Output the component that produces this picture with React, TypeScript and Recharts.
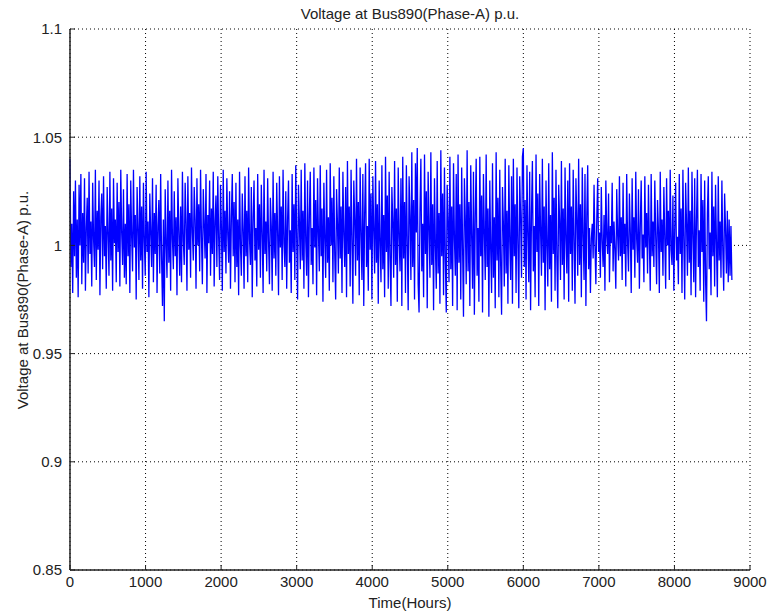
import React from 'react';
import { LineChart, Line, XAxis, YAxis, CartesianGrid, Customized } from 'recharts';

const STEP_HOURS = 12;

const xTicks = [0, 1000, 2000, 3000, 4000, 5000, 6000, 7000, 8000, 9000];
const yTicks = [0.85, 0.9, 0.95, 1, 1.05, 1.1];

// voltage (p.u.), read every ~12 h, month by month
const m1 = [1.040, 0.990, 1.010, 0.978, 1.025, 0.995, 1.030, 0.985, 1.012, 0.976, 1.028, 1.000, 1.033, 0.982, 1.015, 0.992, 1.031, 0.979, 1.008, 1.022, 0.987, 1.034, 0.996, 1.011, 0.981, 1.029, 1.003, 0.990, 1.035, 0.984, 1.016, 0.998, 1.030, 0.977, 1.013, 1.024, 0.989, 1.032, 0.995, 1.009, 0.980, 1.027, 1.005, 0.986, 1.034, 0.993, 1.017, 0.979, 1.031, 1.001, 1.012, 0.983, 1.029, 0.997, 1.020, 0.981, 1.035, 1.006, 0.991, 1.026, 0.985];
const m2 = [1.010, 0.982, 1.033, 0.995, 1.019, 0.978, 1.030, 1.004, 0.988, 1.035, 0.999, 1.014, 0.975, 1.027, 1.008, 0.984, 1.032, 0.993, 1.018, 0.980, 1.029, 1.002, 0.986, 1.034, 0.997, 1.011, 0.976, 1.024, 1.006, 0.990, 1.031, 0.983, 1.015, 0.996, 1.028, 0.978, 1.009, 1.021, 0.987, 1.033, 0.994, 0.972, 1.012, 0.965, 1.026, 1.001, 0.985, 1.030, 0.992, 1.016, 0.979, 1.035, 1.003, 0.989, 1.025, 0.995, 1.013, 0.977, 1.031, 1.007, 0.986];
const m3 = [1.018, 0.983, 1.034, 1.002, 0.991, 1.029, 1.010, 0.979, 1.032, 0.998, 1.015, 0.985, 1.036, 1.006, 0.993, 1.027, 1.012, 0.980, 1.031, 1.000, 1.019, 0.988, 1.035, 1.004, 0.982, 1.026, 1.009, 0.994, 1.033, 0.978, 1.014, 1.001, 1.030, 0.986, 1.017, 0.996, 1.034, 0.981, 1.011, 1.023, 0.990, 1.032, 1.003, 0.984, 1.028, 1.008, 0.979, 1.035, 0.997, 1.016, 0.987, 1.031, 1.005, 0.992, 1.025, 0.980, 1.013, 1.033, 0.995, 1.020, 0.983];
const m4 = [1.029, 0.990, 1.012, 0.977, 1.034, 1.000, 0.986, 1.024, 1.007, 0.980, 1.032, 0.995, 1.016, 0.983, 1.036, 1.003, 0.991, 1.027, 0.976, 1.013, 1.030, 0.993, 1.008, 0.981, 1.033, 0.998, 1.019, 0.985, 1.028, 1.005, 0.978, 1.035, 0.996, 1.011, 0.988, 1.031, 1.002, 0.982, 1.022, 1.009, 0.979, 1.034, 0.994, 1.015, 0.986, 1.029, 1.006, 0.977, 1.032, 0.999, 1.018, 0.984, 1.035, 1.001, 0.990, 1.025, 0.980, 1.012, 1.030, 0.992, 1.007];
const m5 = [0.978, 1.033, 0.997, 1.019, 0.984, 1.037, 1.004, 0.975, 1.028, 1.011, 0.989, 1.035, 0.993, 1.016, 0.980, 1.038, 1.002, 0.986, 1.030, 0.976, 1.014, 1.034, 0.991, 1.008, 0.982, 1.036, 0.999, 1.021, 0.977, 1.031, 1.006, 0.988, 1.037, 0.995, 1.017, 0.974, 1.029, 1.003, 0.985, 1.035, 0.992, 1.013, 0.979, 1.038, 1.000, 1.022, 0.983, 1.032, 0.996, 0.975, 1.026, 1.010, 0.987, 1.036, 0.994, 1.018, 0.978, 1.034, 1.005, 0.990, 1.027];
const m6 = [0.976, 1.039, 0.996, 1.018, 0.981, 1.035, 1.002, 0.973, 1.030, 1.012, 0.986, 1.040, 0.993, 1.020, 0.977, 1.036, 1.005, 0.984, 1.033, 0.972, 1.015, 1.038, 0.990, 1.009, 0.979, 1.040, 0.998, 1.024, 0.975, 1.032, 1.007, 0.987, 1.039, 0.992, 1.019, 0.973, 1.030, 1.001, 0.983, 1.037, 0.989, 1.014, 0.976, 1.041, 0.997, 1.023, 0.980, 1.034, 0.994, 0.972, 1.027, 1.011, 0.985, 1.039, 0.991, 1.017, 0.974, 1.036, 1.004, 0.988, 1.031];
const m7 = [0.972, 1.041, 0.994, 1.020, 0.978, 1.037, 1.001, 0.970, 1.032, 1.013, 0.984, 1.043, 0.990, 1.021, 0.975, 1.038, 1.006, 1.045, 0.982, 0.969, 1.016, 1.040, 0.988, 1.010, 0.976, 1.042, 0.996, 1.025, 0.971, 1.034, 1.008, 0.985, 1.043, 0.991, 1.019, 0.970, 1.031, 1.000, 0.980, 1.039, 0.987, 1.015, 0.973, 1.044, 0.995, 1.024, 0.977, 1.036, 0.993, 0.969, 1.028, 1.012, 0.983, 1.041, 0.989, 1.018, 0.972, 1.038, 1.003, 0.986, 1.033];
const m8 = [0.970, 1.042, 0.992, 1.019, 0.975, 1.036, 0.999, 0.967, 1.031, 1.012, 0.982, 1.044, 0.988, 1.020, 0.972, 1.037, 1.004, 0.980, 1.034, 0.968, 1.014, 1.040, 0.986, 1.008, 0.974, 1.041, 0.995, 1.023, 0.969, 1.033, 1.006, 0.984, 1.042, 0.990, 1.017, 0.967, 1.030, 0.998, 0.978, 1.038, 0.985, 1.013, 0.971, 1.043, 0.993, 1.022, 0.976, 1.035, 0.991, 0.968, 1.027, 1.010, 0.981, 1.040, 0.987, 1.016, 0.973, 1.037, 1.002, 0.984, 1.032];
const m9 = [0.973, 1.040, 0.995, 1.019, 0.978, 1.036, 1.001, 0.971, 1.032, 1.013, 0.985, 1.041, 1.045, 0.990, 1.021, 0.975, 1.037, 1.005, 0.983, 1.034, 0.970, 1.015, 1.039, 0.988, 1.009, 0.976, 1.042, 0.997, 1.024, 0.972, 1.033, 1.007, 0.986, 1.040, 0.992, 1.018, 0.970, 1.030, 1.000, 0.981, 1.038, 0.989, 1.014, 0.974, 1.043, 0.996, 1.022, 0.979, 1.035, 0.994, 0.971, 1.028, 1.011, 0.984, 1.039, 0.991, 1.017, 0.975, 1.036, 1.003, 0.987];
const m10 = [1.030, 0.974, 1.038, 0.996, 1.018, 0.979, 1.035, 1.002, 0.973, 1.031, 1.012, 0.986, 1.040, 0.991, 1.019, 0.976, 1.036, 1.004, 0.984, 1.033, 0.972, 1.014, 1.037, 0.989, 1.008, 0.978, 1.003, 1.010, 0.994, 1.028, 1.000, 0.982, 1.012, 1.031, 0.997, 1.006, 0.985, 1.027, 1.002, 0.990, 1.014, 0.979, 1.030, 1.004, 0.996, 1.024, 0.983, 1.009, 1.001, 1.029, 0.988, 1.011, 0.998, 0.980, 1.026, 1.005, 0.993, 1.032, 0.995, 1.013, 0.984];
const m11 = [1.029, 0.996, 1.010, 0.981, 1.033, 1.001, 0.988, 1.024, 1.006, 0.978, 1.031, 0.998, 1.013, 0.985, 1.034, 1.003, 0.992, 1.026, 0.980, 1.009, 1.030, 0.994, 1.005, 0.983, 1.032, 0.999, 1.015, 0.987, 1.028, 1.002, 0.979, 1.033, 0.995, 1.011, 0.990, 1.030, 1.004, 0.982, 1.021, 1.007, 0.978, 1.034, 0.997, 1.012, 0.986, 1.027, 1.003, 0.980, 1.031, 1.000, 1.016, 0.984, 1.035, 0.998, 0.991, 1.023, 0.979, 1.008, 1.029, 0.993, 1.004];
const m12 = [0.982, 1.033, 0.996, 1.017, 0.978, 1.035, 1.002, 0.975, 1.029, 1.010, 0.986, 1.036, 0.992, 1.016, 0.977, 1.034, 1.004, 0.983, 1.031, 0.976, 1.012, 1.035, 0.990, 1.007, 0.979, 1.033, 0.997, 1.021, 0.974, 1.030, 0.984, 0.965, 1.015, 1.032, 0.989, 1.006, 0.977, 1.034, 0.995, 1.018, 0.981, 1.028, 1.001, 0.976, 1.032, 0.993, 1.011, 0.985, 1.030, 0.998, 0.979, 1.024, 1.008, 0.987, 1.016, 0.983, 1.012, 0.986, 1.009, 0.984];

const voltage = [...m1, ...m2, ...m3, ...m4, ...m5, ...m6, ...m7, ...m8, ...m9, ...m10, ...m11, ...m12];
const data = voltage.map((v, i) => ({ hour: i * STEP_HOURS, v }));

const FONT = '"Liberation Sans", Arial, sans-serif';

const Labels = () => (
  <g fontFamily={FONT} fontSize={15} fill="#222">
    <text x={410} y={19} textAnchor="middle">Voltage at Bus890(Phase-A) p.u.</text>
    <text x={410} y={608} textAnchor="middle">Time(Hours)</text>
    <text x={28} y={300} textAnchor="middle" transform="rotate(-90 28 300)">
      Voltage at Bus890(Phase-A) p.u.
    </text>
  </g>
);

export default function App() {
  return (
    <div style={{ position: 'absolute', left: 0, top: 0, width: 771, height: 613, background: '#fff' }}>
      <LineChart width={771} height={613} data={data} margin={{ top: 29, right: 21, bottom: 0, left: 0 }}>
        <CartesianGrid stroke="#000" strokeDasharray="1 3" />
        <XAxis
          dataKey="hour"
          type="number"
          domain={[0, 9000]}
          ticks={xTicks}
          height={43}
          axisLine={{ stroke: '#222', strokeWidth: 1.5 }}
          tickLine={{ stroke: '#222' }}
          tickSize={-5}
          tickMargin={11}
          tick={{ fill: '#222', fontSize: 15, fontFamily: FONT }}
        />
        <YAxis
          type="number"
          domain={[0.85, 1.1]}
          ticks={yTicks}
          width={70}
          axisLine={{ stroke: '#222', strokeWidth: 1.5 }}
          tickLine={{ stroke: '#222' }}
          tickSize={-5}
          tickMargin={13}
          tick={{ fill: '#222', fontSize: 15, fontFamily: FONT }}
        />
        <Line
          dataKey="v"
          type="linear"
          stroke="#0000ff"
          strokeWidth={1.3}
          dot={false}
          isAnimationActive={false}
        />
        <Customized component={Labels} />
      </LineChart>
    </div>
  );
}
